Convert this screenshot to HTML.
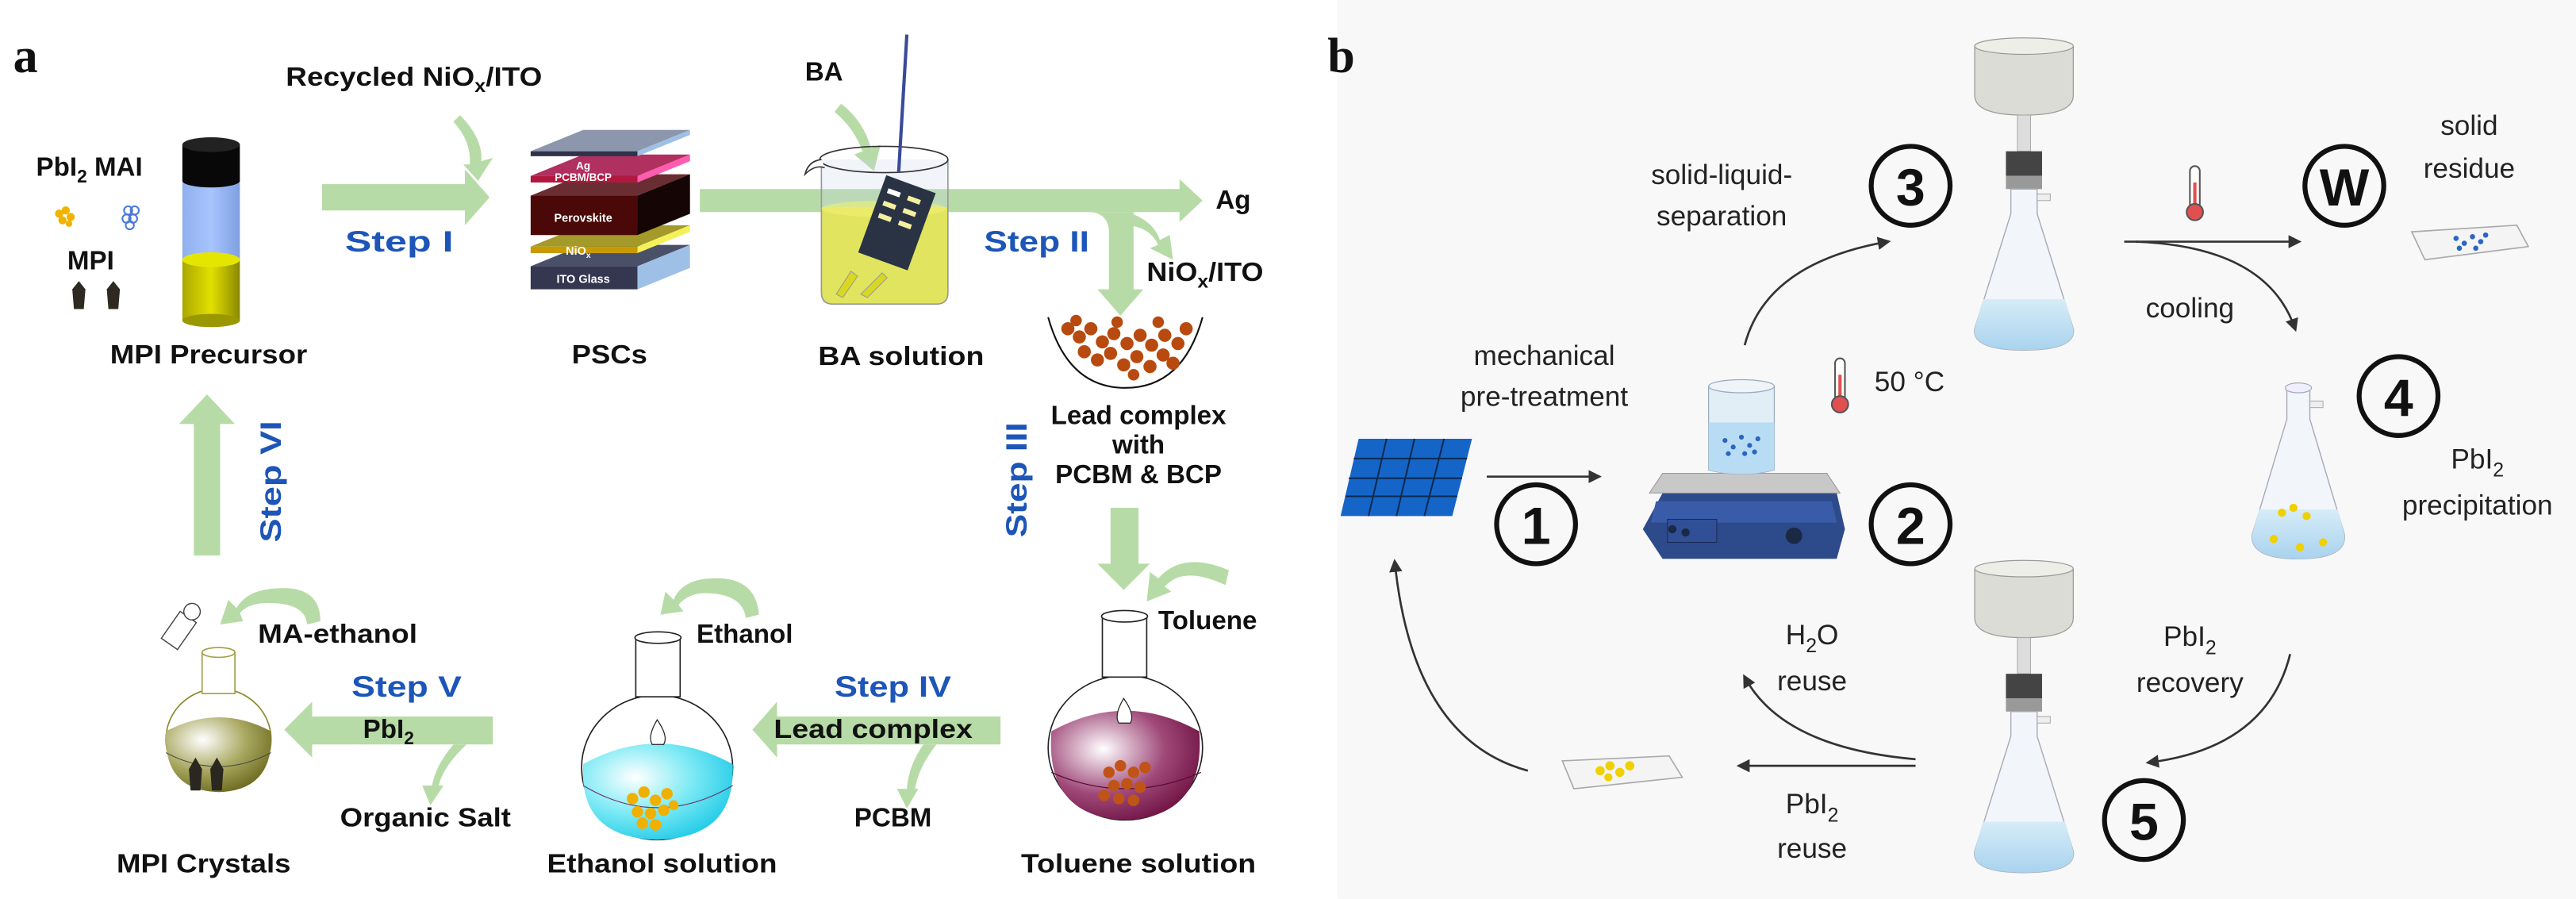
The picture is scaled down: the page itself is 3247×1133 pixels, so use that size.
<!DOCTYPE html>
<html><head><meta charset="utf-8"><style>
html,body{margin:0;padding:0;background:#fff}
svg{display:block}
text{font-family:"Liberation Sans",sans-serif}
.b{font-weight:bold;fill:#111}
.st{font-weight:bold;fill:#1d55b8}
.r{fill:#222}
</style></head><body>
<svg width="3247" height="1133" viewBox="0 0 1568 547" xmlns="http://www.w3.org/2000/svg">
<defs>
<radialGradient id="mar" cx="0.35" cy="0.35" r="0.75"><stop offset="0" stop-color="#fff"/><stop offset="0.55" stop-color="#a04a7a"/><stop offset="1" stop-color="#6a0c3c"/></radialGradient>
<radialGradient id="cy" cx="0.35" cy="0.35" r="0.75"><stop offset="0" stop-color="#fff"/><stop offset="0.5" stop-color="#7eeaf5"/><stop offset="1" stop-color="#18c8e6"/></radialGradient>
<radialGradient id="ol" cx="0.35" cy="0.3" r="0.75"><stop offset="0" stop-color="#fff"/><stop offset="0.55" stop-color="#a9a861"/><stop offset="1" stop-color="#6c6a1e"/></radialGradient>
<linearGradient id="yel" x1="0" x2="1"><stop offset="0" stop-color="#aaa800"/><stop offset="0.5" stop-color="#e2e000"/><stop offset="1" stop-color="#8a8800"/></linearGradient>
<linearGradient id="blu" x1="0" x2="1"><stop offset="0" stop-color="#8fb0ee"/><stop offset="0.5" stop-color="#a8c4ff"/><stop offset="1" stop-color="#7f9fe0"/></linearGradient>
<linearGradient id="liq" x1="0" y1="0" x2="0" y2="1"><stop offset="0" stop-color="#d6ecf8"/><stop offset="1" stop-color="#a9d3ee"/></linearGradient>
<marker id="ah" markerWidth="8" markerHeight="8" refX="6" refY="4" orient="auto" markerUnits="userSpaceOnUse"><path d="M0,0 L8,4 L0,8 Z" fill="#333"/></marker>
</defs>
<rect x="0" y="0" width="1568" height="547" fill="#fff"/>
<rect x="814" y="0" width="754" height="547" fill="#f8f8f8"/>

<!-- ===== PANEL A ===== -->
<text x="8" y="44" style="font-family:'Liberation Serif',serif;font-weight:bold;font-size:30px" fill="#111">a</text>

<g fill="#b7dba6" stroke="none">
<!-- step I -->
<rect x="196" y="112" width="90" height="16"/>
<polygon points="283,103 298,120 283,137"/>
<!-- recycled curved -->
<path d="M280,70 Q294,84 293,98 L300,96 L291,110 L282,100 L286,100 Q287,86 276,74 Z"/>
<!-- band to Ag -->
<rect x="426" y="115" width="295" height="14"/>
<polygon points="718,109 732,122 718,135"/>
<!-- branch down -->
<path d="M662,129 Q674,129 675,140 L675,176 L668,176 L682,192 L696,176 L690,176 L690,129 Z"/>
<!-- NiOx curved -->
<path d="M686,129 Q702,134 706,146 L712,143 L714,158 L700,151 L705,149 Q700,138 686,137 Z"/>
<!-- BA curved -->
<path d="M512,63 Q526,74 530,90 L536,88 L532,104 L520,94 L525,92 Q520,78 508,68 Z"/>
<!-- step III down -->
<rect x="676" y="309" width="17" height="36"/>
<polygon points="668,343 700,343 684,359"/>
<!-- toluene curl -->
<path d="M748,347 Q720,335 705,352 L700,348 L698,366 L713,360 L709,357 Q720,344 746,356 Z"/>
<!-- step IV band -->
<rect x="470" y="436" width="139" height="17"/>
<polygon points="473,427 458,444 473,461"/>
<path d="M562,453 Q553,466 552,480 L546,480 L552,492 L559,480 L557,480 Q559,467 570,453 Z"/>
<!-- ethanol curl -->
<path d="M462,374 Q460,350 432,352 Q415,353 410,365 L405,360 L402,374 L416,372 L413,368 Q420,360 432,361 Q452,362 454,376 Z"/>
<!-- step V band -->
<rect x="187" y="436" width="113" height="17"/>
<polygon points="190,427 173,444 190,461"/>
<path d="M276,453 Q265,466 263,478 L257,478 L262,490 L270,478 L267,478 Q270,466 284,453 Z"/>
<!-- MA-ethanol curl -->
<path d="M195,378 Q195,356 168,358 Q150,359 144,370 L139,365 L134,380 L148,378 L146,373 Q152,366 167,367 Q186,368 187,380 Z"/>
<!-- step VI up -->
<rect x="118" y="256" width="16" height="82"/>
<polygon points="109,258 126,240 143,258"/>
</g>

<!-- labels top row -->
<text class="b" x="174" y="52" font-size="16" textLength="156" lengthAdjust="spacingAndGlyphs">Recycled NiO<tspan font-size="11" dy="4">x</tspan><tspan dy="-4">/ITO</tspan></text>
<text class="b" x="22" y="107" font-size="16">PbI<tspan font-size="11" dy="4">2</tspan><tspan dy="-4"> MAI</tspan></text>
<text class="b" x="41" y="164" font-size="16">MPI</text>
<!-- blobs -->
<g fill="#f0b400"><circle cx="36" cy="130" r="2.5"/><circle cx="40" cy="128" r="2.5"/><circle cx="43" cy="132" r="2.5"/><circle cx="38" cy="134" r="2.5"/><circle cx="42" cy="136" r="2"/></g>
<g fill="none" stroke="#4a78d8" stroke-width="1"><circle cx="78" cy="128" r="2.5"/><circle cx="82" cy="128" r="2.5"/><circle cx="77" cy="133" r="2.5"/><circle cx="81" cy="133" r="2.5"/><circle cx="79" cy="137" r="2.5"/></g>
<polygon points="44,176 48,171 52,176 51,188 45,188" fill="#2e2a22"/>
<polygon points="65,176 69,171 73,176 72,188 66,188" fill="#2e2a22"/>
<!-- tube -->
<rect x="111" y="110" width="35" height="48" fill="url(#blu)"/>
<rect x="111" y="158" width="35" height="37" fill="url(#yel)"/>
<ellipse cx="128.5" cy="195" rx="17.5" ry="4" fill="#9a9800"/>
<ellipse cx="128.5" cy="158" rx="17.5" ry="4.5" fill="#e4e600"/>
<rect x="111" y="88" width="35" height="22" fill="#080808"/>
<ellipse cx="128.5" cy="110" rx="17.5" ry="4" fill="#080808"/>
<ellipse cx="128.5" cy="88" rx="17.5" ry="4.5" fill="#222"/>
<text class="b" x="67" y="221" font-size="16" textLength="120" lengthAdjust="spacingAndGlyphs">MPI Precursor</text>

<!-- PSC stack -->
<g>
<polygon points="323,162 355,149 420,149 388,162" fill="#4a5068"/><polygon points="388,162 420,149 420,163 388,176" fill="#9fc0e6"/><rect x="323" y="162" width="65" height="14" fill="#353650"/>
<polygon points="323,150 355,137 420,137 388,150" fill="#a39a2a"/><polygon points="388,150 420,137 420,141 388,154" fill="#f4f05a"/><rect x="323" y="150" width="65" height="4" fill="#c89a00"/>
<polygon points="323,119 355,106 420,106 388,119" fill="#6a2e32"/><polygon points="388,119 420,106 420,130 388,143" fill="#150505"/><rect x="323" y="119" width="65" height="24" fill="#4a0808"/>
<polygon points="323,107 355,94 420,94 388,107" fill="#b03060"/><polygon points="388,107 420,94 420,98 388,111" fill="#ff5cb0"/><rect x="323" y="107" width="65" height="4" fill="#b01840"/>
<polygon points="323,92 355,79 420,79 388,92" fill="#8c96ac"/><polygon points="388,92 420,79 420,82 388,95" fill="#9fc0e6"/><rect x="323" y="92" width="65" height="3" fill="#30324a"/>
<text x="355" y="103" font-size="6.5" font-weight="bold" fill="#fff" text-anchor="middle">Ag</text>
<text x="355" y="110" font-size="6.5" font-weight="bold" fill="#fff" text-anchor="middle">PCBM/BCP</text>
<text x="355" y="135" font-size="7" font-weight="bold" fill="#fff" text-anchor="middle">Perovskite</text>
<text x="352" y="155" font-size="7" font-weight="bold" fill="#fff" text-anchor="middle">NiO<tspan font-size="5" dy="2">x</tspan></text>
<text x="355" y="172" font-size="7" font-weight="bold" fill="#fff" text-anchor="middle">ITO Glass</text>
</g>
<text class="b" x="348" y="221" font-size="16" textLength="46" lengthAdjust="spacingAndGlyphs">PSCs</text>

<!-- beaker -->
<path d="M500,126 L577,126 L577,178 Q577,185 570,185 L507,185 Q500,185 500,178 Z" fill="#eaea30"/>
<path d="M500,97 L500,178 Q500,185 507,185 L570,185 Q577,185 577,178 L577,97" fill="rgba(200,210,230,0.25)" stroke="#999" stroke-width="0.8"/>
<ellipse cx="538" cy="97" rx="39" ry="8" fill="none" stroke="#333" stroke-width="0.8"/>
<path d="M500,97 Q492,98 490,106 Q496,100 502,102" fill="#fff" stroke="#333" stroke-width="0.8"/>
<ellipse cx="538" cy="127" rx="38" ry="5" fill="#f0f070" opacity="0.6"/>
<g transform="rotate(20 544 138)">
<rect x="529" y="110" width="32" height="50" fill="#2a3344"/>
<rect x="533" y="117" width="8" height="3" fill="#fff"/><rect x="546" y="117" width="8" height="3" fill="#f5f0a0"/>
<rect x="533" y="125" width="8" height="3" fill="#f5f0a0"/><rect x="546" y="125" width="8" height="3" fill="#f5f0a0"/>
<rect x="533" y="133" width="8" height="3" fill="#f5f0a0"/><rect x="546" y="133" width="8" height="3" fill="#f5f0a0"/>
</g>
<line x1="552" y1="21" x2="547" y2="105" stroke="#3a4a9a" stroke-width="2"/>
<path d="M509,179 L518,165 L522,168 L513,181 Z" fill="#d8d820" stroke="#999" stroke-width="0.5"/>
<path d="M524,179 L537,166 L540,169 L528,181 Z" fill="#d8d820" stroke="#999" stroke-width="0.5"/>
<text class="b" x="490" y="49" font-size="16">BA</text>
<text class="b" x="498" y="222" font-size="16" textLength="101" lengthAdjust="spacingAndGlyphs">BA solution</text>
<text class="st" x="599" y="153" font-size="18" textLength="64" lengthAdjust="spacingAndGlyphs">Step II</text>
<text class="st" x="210" y="153" font-size="18" textLength="66" lengthAdjust="spacingAndGlyphs">Step  I</text>
<text class="b" x="740" y="127" font-size="16">Ag</text>
<text class="b" x="698" y="171" font-size="16" textLength="71" lengthAdjust="spacingAndGlyphs">NiO<tspan font-size="11" dy="4">x</tspan><tspan dy="-4">/ITO</tspan></text>

<!-- bowl -->
<path d="M638,193 Q650,236 685,236 Q720,236 732,193" fill="none" stroke="#111" stroke-width="1"/>
<g fill="#b84a10">
<circle cx="650" cy="200" r="4"/><circle cx="657" cy="205" r="4"/><circle cx="664" cy="200" r="4"/><circle cx="671" cy="208" r="4"/><circle cx="678" cy="203" r="4"/><circle cx="686" cy="209" r="4"/><circle cx="694" cy="204" r="4"/><circle cx="701" cy="210" r="4"/><circle cx="709" cy="204" r="4"/><circle cx="717" cy="209" r="4"/><circle cx="722" cy="200" r="4"/>
<circle cx="660" cy="214" r="4"/><circle cx="668" cy="219" r="4"/><circle cx="676" cy="215" r="4"/><circle cx="684" cy="222" r="4"/><circle cx="692" cy="217" r="4"/><circle cx="700" cy="223" r="4"/><circle cx="708" cy="216" r="4"/><circle cx="714" cy="221" r="4"/>
<circle cx="655" cy="195" r="3.5"/><circle cx="680" cy="196" r="3.5"/><circle cx="705" cy="196" r="3.5"/><circle cx="690" cy="228" r="3.5"/>
</g>
<text class="b" x="693" y="258" font-size="16" text-anchor="middle">Lead complex</text>
<text class="b" x="693" y="276" font-size="16" text-anchor="middle">with</text>
<text class="b" x="693" y="294" font-size="16" text-anchor="middle">PCBM &amp; BCP</text>
<text class="st" transform="translate(625,327) rotate(-90)" font-size="18" textLength="70" lengthAdjust="spacingAndGlyphs">Step III</text>
<text class="st" transform="translate(171,330) rotate(-90)" font-size="18" textLength="74" lengthAdjust="spacingAndGlyphs">Step VI</text>

<!-- toluene flask -->
<ellipse cx="685" cy="455" rx="47" ry="44" fill="none" stroke="#222" stroke-width="0.8"/>
<path d="M640,445 Q685,420 730,445 Q734,497 685,499 Q636,497 640,445 Z" fill="url(#mar)"/>
<path d="M640,470 Q685,490 731,470" fill="none" stroke="#5a0a30" stroke-width="0.6"/>
<rect x="671" y="375" width="27" height="37" fill="#fff" stroke="#222" stroke-width="0.8"/>
<ellipse cx="684.5" cy="375" rx="14" ry="3.5" fill="#fff" stroke="#222" stroke-width="0.8"/>
<path d="M684,425 Q678,435 681,440 L688,440 Q691,435 684,425 Z" fill="#fff" stroke="#222" stroke-width="0.6"/>
<g fill="#c05418"><circle cx="675" cy="470" r="3.5"/><circle cx="682" cy="466" r="3.5"/><circle cx="690" cy="470" r="3.5"/><circle cx="697" cy="467" r="3.5"/><circle cx="678" cy="478" r="3.5"/><circle cx="686" cy="477" r="3.5"/><circle cx="694" cy="479" r="3.5"/><circle cx="681" cy="486" r="3.5"/><circle cx="690" cy="487" r="3.5"/><circle cx="672" cy="484" r="3.5"/></g>
<text class="b" x="705" y="383" font-size="16">Toluene</text>
<text class="b" x="693" y="531" font-size="16" text-anchor="middle" textLength="143" lengthAdjust="spacingAndGlyphs">Toluene solution</text>

<!-- ethanol flask -->
<ellipse cx="400" cy="467" rx="46" ry="44" fill="none" stroke="#222" stroke-width="0.8"/>
<path d="M355,465 Q400,440 446,465 Q448,510 400,511 Q352,510 355,465 Z" fill="url(#cy)"/>
<path d="M355,478 Q400,505 446,478" fill="none" stroke="#6a3a6a" stroke-width="0.6"/>
<rect x="387" y="388" width="27" height="36" fill="#fff" stroke="#222" stroke-width="0.8"/>
<ellipse cx="400.5" cy="388" rx="14" ry="3.5" fill="#fff" stroke="#222" stroke-width="0.8"/>
<path d="M400,438 Q394,448 397,453 L404,453 Q407,448 400,438 Z" fill="#fff" stroke="#222" stroke-width="0.6"/>
<g fill="#f0b000"><circle cx="385" cy="486" r="3.5"/><circle cx="392" cy="482" r="3.5"/><circle cx="399" cy="487" r="3.5"/><circle cx="406" cy="483" r="3.5"/><circle cx="388" cy="494" r="3.5"/><circle cx="396" cy="495" r="3.5"/><circle cx="404" cy="493" r="3.5"/><circle cx="391" cy="501" r="3.5"/><circle cx="399" cy="502" r="3.5"/><circle cx="410" cy="490" r="3"/></g>
<text class="b" x="424" y="391" font-size="16">Ethanol</text>
<text class="b" x="403" y="531" font-size="16" text-anchor="middle" textLength="140" lengthAdjust="spacingAndGlyphs">Ethanol solution</text>
<text class="st" x="508" y="424" font-size="18" textLength="71" lengthAdjust="spacingAndGlyphs">Step IV</text>
<text class="b" x="471" y="449" font-size="16" textLength="121" lengthAdjust="spacingAndGlyphs">Lead complex</text>
<text class="b" x="520" y="503" font-size="16">PCBM</text>

<!-- MPI flask -->
<ellipse cx="133" cy="450" rx="32" ry="31" fill="none" stroke="#8a8a2a" stroke-width="0.8"/>
<path d="M101,445 Q133,428 165,445 Q167,481 133,482 Q99,481 101,445 Z" fill="url(#ol)"/>
<path d="M101,458 Q133,475 165,458" fill="none" stroke="#444" stroke-width="0.5"/>
<rect x="123" y="397" width="20" height="25" fill="#fff" stroke="#a0a040" stroke-width="0.8"/>
<ellipse cx="133" cy="397" rx="10" ry="3" fill="#fff" stroke="#a0a040" stroke-width="0.8"/>
<polygon points="115,468 119,461 123,468 122,481 116,481" fill="#2a2620"/>
<polygon points="128,468 132,461 136,468 135,481 129,481" fill="#2a2620"/>
<g transform="rotate(35 110 382)"><rect x="104" y="374" width="12" height="20" fill="#fff" stroke="#444" stroke-width="0.7"/><circle cx="110" cy="370" r="5" fill="#fff" stroke="#444" stroke-width="0.7"/></g>
<text class="b" x="157" y="391" font-size="16" textLength="97" lengthAdjust="spacingAndGlyphs">MA-ethanol</text>
<text class="st" x="214" y="424" font-size="18" textLength="67" lengthAdjust="spacingAndGlyphs">Step V</text>
<text class="b" x="221" y="449" font-size="16">PbI<tspan font-size="11" dy="4">2</tspan></text>
<text class="b" x="207" y="503" font-size="16" textLength="104" lengthAdjust="spacingAndGlyphs">Organic Salt</text>
<text class="b" x="71" y="531" font-size="16" textLength="106" lengthAdjust="spacingAndGlyphs">MPI Crystals</text>

<!-- ===== PANEL B ===== -->
<text x="808" y="44" style="font-family:'Liberation Serif',serif;font-weight:bold;font-size:30px" fill="#111">b</text>

<!-- funnel 3 -->
<g id="fil">
<path d="M1202,28 L1262,28 L1262,58 Q1262,70 1232,70 Q1202,70 1202,58 Z" fill="#dcdcd6" stroke="#999" stroke-width="0.6"/>
<ellipse cx="1232" cy="28" rx="30" ry="5" fill="#eeeee8" stroke="#999" stroke-width="0.6"/>
<rect x="1228" y="70" width="8" height="22" fill="#ddd" stroke="#aaa" stroke-width="0.5"/>
<rect x="1221" y="92" width="22" height="15" fill="#444"/>
<rect x="1221" y="107" width="22" height="8" fill="#999"/>
<path d="M1224,115 L1240,115 L1240,130 L1262,200 Q1264,213 1232,213 Q1200,213 1202,200 L1224,130 Z" fill="#f2f6fa" stroke="#aab" stroke-width="0.7"/>
<rect x="1240" y="118" width="8" height="4" fill="#eee" stroke="#aaa" stroke-width="0.5"/>
<path d="M1207,182 L1257,182 L1262,200 Q1264,213 1232,213 Q1200,213 1202,200 Z" fill="url(#liq)"/>
</g>
<use href="#fil" transform="translate(0,318)"/>

<!-- circles -->
<g fill="none" stroke="#111" stroke-width="3">
<circle cx="1163" cy="113" r="24"/><circle cx="1427" cy="113" r="24"/><circle cx="935" cy="319" r="24"/><circle cx="1163" cy="319" r="24"/><circle cx="1460" cy="241" r="24"/><circle cx="1305" cy="499" r="24"/>
</g>
<g font-weight="bold" font-size="32" text-anchor="middle" fill="#111">
<text x="1163" y="125">3</text><text x="1427" y="125">W</text><text x="935" y="331">1</text><text x="1163" y="331">2</text><text x="1460" y="253">4</text><text x="1305" y="511">5</text>
</g>

<g class="r" font-size="17" text-anchor="middle">
<text x="1048" y="112">solid-liquid-</text><text x="1048" y="137">separation</text>
<text x="1503" y="82">solid</text><text x="1503" y="108">residue</text>
<text x="1333" y="193">cooling</text>
<text x="940" y="222">mechanical</text><text x="940" y="247">pre-treatment</text>
<text x="1508" y="285">PbI<tspan font-size="12" dy="5">2</tspan></text><text x="1508" y="313">precipitation</text>
<text x="1333" y="393">PbI<tspan font-size="12" dy="5">2</tspan></text><text x="1333" y="421">recovery</text>
<text x="1103" y="392">H<tspan font-size="12" dy="5">2</tspan><tspan dy="-5">O</tspan></text><text x="1103" y="420">reuse</text>
<text x="1103" y="495">PbI<tspan font-size="12" dy="5">2</tspan></text><text x="1103" y="522">reuse</text>
</g>
<text class="r" x="1141" y="238" font-size="17">50 °C</text>

<!-- thermometers -->
<g><rect x="1117" y="218" width="6" height="26" rx="3" fill="#fff" stroke="#555" stroke-width="1"/><rect x="1119" y="228" width="2" height="16" fill="#e05050"/><circle cx="1120" cy="246" r="5" fill="#e05050" stroke="#555" stroke-width="1"/></g>
<g><rect x="1333" y="101" width="6" height="26" rx="3" fill="#fff" stroke="#555" stroke-width="1"/><rect x="1335" y="111" width="2" height="16" fill="#e05050"/><circle cx="1336" cy="129" r="5" fill="#e05050" stroke="#555" stroke-width="1"/></g>

<!-- arrows -->
<g fill="none" stroke="#333" stroke-width="1.3" marker-end="url(#ah)">
<path d="M1062,210 Q1075,160 1149,147"/>
<path d="M1293,147 L1399,147"/>
<path d="M1300,147 Q1380,150 1397,200"/>
<path d="M905,290 L973,290"/>
<path d="M1394,398 Q1380,455 1308,464"/>
<path d="M1166,462 Q1085,455 1062,412"/>
<path d="M1166,466 L1059,466"/>
<path d="M930,469 Q860,450 849,342"/>
</g>

<!-- solar panel -->
<g>
<polygon points="827,267 896,267 884,314 816,314" fill="#1565c8"/>
<g stroke="#0b2a50" stroke-width="1" fill="none">
<line x1="824" y1="279" x2="893" y2="279"/><line x1="821" y1="291" x2="890" y2="291"/><line x1="819" y1="302" x2="887" y2="302"/>
<line x1="844" y1="267" x2="833" y2="314"/><line x1="861" y1="267" x2="850" y2="314"/><line x1="879" y1="267" x2="867" y2="314"/>
</g></g>

<!-- hotplate -->
<g>
<polygon points="1000,322 1012,300 1118,300 1123,322 1118,340 1012,340" fill="#2d4a8a"/>
<polygon points="1008,305 1115,305 1118,318 1005,318" fill="#3a5ca8"/>
<polygon points="1012,288 1112,288 1120,300 1004,300" fill="#c8c8c8" stroke="#999" stroke-width="0.5"/>
<rect x="1015" y="316" width="30" height="14" fill="#304f96" stroke="#1a2a55" stroke-width="0.5"/>
<circle cx="1018" cy="322" r="2.5" fill="#1a2a44"/><circle cx="1026" cy="324" r="2.5" fill="#1a2a44"/>
<circle cx="1092" cy="326" r="5" fill="#1a2a44"/>
<path d="M1040,235 L1080,235 L1080,286 Q1060,291 1040,286 Z" fill="rgba(220,235,245,0.8)" stroke="#9ab" stroke-width="0.6"/>
<path d="M1040,257 L1080,257 L1080,286 Q1060,291 1040,286 Z" fill="#b8dcf4"/>
<ellipse cx="1060" cy="235" rx="20" ry="4" fill="#eef4f8" stroke="#9ab" stroke-width="0.6"/>
<g fill="#2a66c0"><circle cx="1050" cy="268" r="1.5"/><circle cx="1055" cy="272" r="1.5"/><circle cx="1060" cy="266" r="1.5"/><circle cx="1065" cy="271" r="1.5"/><circle cx="1070" cy="267" r="1.5"/><circle cx="1052" cy="276" r="1.5"/><circle cx="1062" cy="276" r="1.5"/><circle cx="1068" cy="275" r="1.5"/></g>
</g>

<!-- flask 4 -->
<g>
<path d="M1392,236 L1406,236 L1406,255 L1427,325 Q1429,340 1399,340 Q1369,340 1371,325 L1392,255 Z" fill="#f2f6fa" stroke="#aab" stroke-width="0.7"/>
<ellipse cx="1399" cy="236" rx="8" ry="3" fill="#eef" stroke="#aab" stroke-width="0.6"/>
<rect x="1406" y="244" width="8" height="4" fill="#eee" stroke="#aaa" stroke-width="0.5"/>
<path d="M1375,310 L1423,310 L1427,325 Q1429,340 1399,340 Q1369,340 1371,325 Z" fill="url(#liq)"/>
<g fill="#f0d000"><circle cx="1389" cy="312" r="2.5"/><circle cx="1404" cy="314" r="2.5"/><circle cx="1396" cy="309" r="2.5"/><circle cx="1384" cy="328" r="2.5"/><circle cx="1400" cy="333" r="2.5"/><circle cx="1414" cy="330" r="2.5"/></g>
</g>

<!-- dishes -->
<g><polygon points="1468,141 1532,137 1539,150 1476,158" fill="#f4f4f4" stroke="#aaa" stroke-width="0.8"/>
<g fill="#2a66c0"><circle cx="1495" cy="145" r="1.6"/><circle cx="1500" cy="148" r="1.6"/><circle cx="1505" cy="144" r="1.6"/><circle cx="1510" cy="147" r="1.6"/><circle cx="1497" cy="151" r="1.6"/><circle cx="1507" cy="151" r="1.6"/><circle cx="1513" cy="143" r="1.6"/></g></g>
<g><polygon points="951,463 1016,460 1024,473 958,480" fill="#f4f4f4" stroke="#aaa" stroke-width="0.8"/>
<g fill="#f0d000"><circle cx="974" cy="469" r="2.8"/><circle cx="980" cy="466" r="2.8"/><circle cx="986" cy="470" r="2.8"/><circle cx="992" cy="466" r="2.8"/><circle cx="979" cy="473" r="2.5"/></g></g>
</svg>
</body></html>
